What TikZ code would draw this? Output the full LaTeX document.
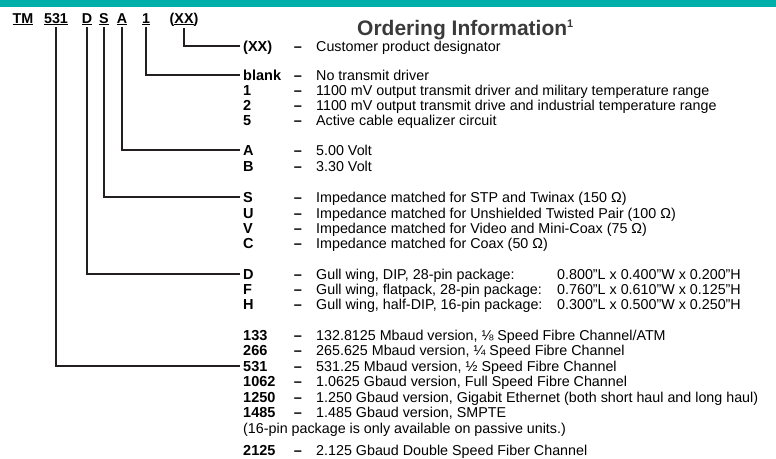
\documentclass[tikz,border=0pt]{standalone}
\usepackage{fontspec}
\setmainfont{Liberation Sans}
\definecolor{barteal}{HTML}{00AFA9}
\definecolor{titlegray}{HTML}{3A3A3A}
\definecolor{linkgray}{HTML}{231F20}

\begin{document}
\begin{tikzpicture}[x=1pt, y=-1pt,
    body/.style={font=\fontsize{14.3pt}{16pt}\selectfont, inner sep=0pt, text height=10pt, text depth=0pt},
    code/.style={font=\fontsize{14.3pt}{16pt}\selectfont\bfseries, inner sep=0pt, anchor=base},
    optlabel/.style={body, font=\fontsize{14.5pt}{16pt}\selectfont\bfseries, anchor=west, inner xsep=3pt},
    dashmark/.style={body, font=\fontsize{14.5pt}{16pt}\selectfont\bfseries},
    optdesc/.style={body, anchor=west},
    title/.style={font=\fontsize{21pt}{24pt}\selectfont\bfseries, text=titlegray, inner sep=0pt, anchor=base west},
    link/.style={draw=linkgray, line width=1.3pt, shorten <=2pt},
]
\useasboundingbox (0,0) rectangle (776,458);

% Top band
\fill[barteal] (0,0) rectangle (776,7);

% Title
\node[title] (title) at (357,35) {Ordering Information\raisebox{8pt}{\fontsize{11pt}{11pt}\selectfont 1}};

% Part number fields
\node[code] (cTM) at (23,23) {\underline{TM}};
\node[code] (c531) at (56,23) {\underline{531}};
\node[code] (cD) at (87,23) {\underline{D}};
\node[code] (cS) at (104,23) {\underline{S}};
\node[code] (cA) at (122,23) {\underline{A}};
\node[code] (c1) at (146,23) {\underline{1}};
\node[code] (cXX) at (184,23) {(\underline{XX})};

% Option rows
\foreach \nm/\yy/\lab/\txt in {
    xx/46/{(XX)}/{Customer product designator},
    blank/75/blank/{No transmit driver},
    1/90/1/{1100 mV output transmit driver and military temperature range},
    2/105/2/{1100 mV output transmit drive and industrial temperature range},
    5/120/5/{Active cable equalizer circuit},
    A/150/A/{5.00 Volt},
    B/166/B/{3.30 Volt},
    S/197/S/{Impedance matched for STP and Twinax (150 Ω)},
    U/213/U/{Impedance matched for Unshielded Twisted Pair (100 Ω)},
    V/228/V/{Impedance matched for Video and Mini-Coax (75 Ω)},
    C/243/C/{Impedance matched for Coax (50 Ω)},
    D/274/D/{Gull wing, DIP, 28-pin package:},
    F/289/F/{Gull wing, flatpack, 28-pin package:},
    H/304/H/{Gull wing, half-DIP, 16-pin package:},
    133/335/133/{132.8125 Mbaud version, ⅛ Speed Fibre Channel/ATM},
    266/350/266/{265.625 Mbaud version, ¼ Speed Fibre Channel},
    531/366/531/{531.25 Mbaud version, ½ Speed Fibre Channel},
    1062/381/1062/{1.0625 Gbaud version, Full Speed Fibre Channel},
    1250/397/1250/{1.250 Gbaud version, Gigabit Ethernet (both short haul and long haul)},
    1485/412/1485/{1.485 Gbaud version, SMPTE},
    2125/450/2125/{2.125 Gbaud Double Speed Fiber Channel}} {
    \node[optlabel] (r\nm) at (240,\yy) {\lab};
    \node[dashmark] (d\nm) at (298,\yy) {--};
    \node[optdesc] (t\nm) at (316,\yy) {\txt};
}

% Package sizes
\node[optdesc] (mD) at (557,274) {0.800"L x 0.400"W x 0.200"H};
\node[optdesc] (mF) at (557,289) {0.760"L x 0.610"W x 0.125"H};
\node[optdesc] (mH) at (557,304) {0.300"L x 0.500"W x 0.250"H};

\node[optdesc] (note) at (243,428) {(16-pin package is only available on passive units.)};

% Field connectors
\foreach \src/\dst in {cXX/rxx, c1/rblank, cA/rA, cS/rS, cD/rD, c531/r531} {
    \draw[link] (\src.south) |- (\dst.west);
}

\end{tikzpicture}
\end{document}
